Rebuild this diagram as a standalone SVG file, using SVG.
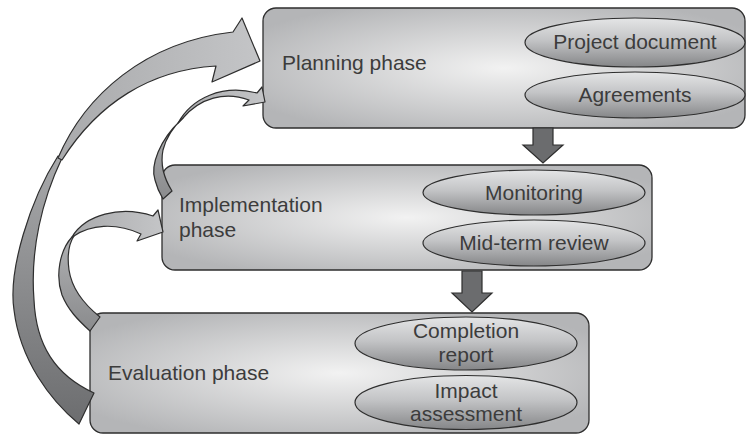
<svg xmlns="http://www.w3.org/2000/svg" width="747" height="435" viewBox="0 0 747 435">
<defs>
<radialGradient id="boxG" cx="0.5" cy="0.5" r="0.6">
<stop offset="0" stop-color="#f2f2f2"/>
<stop offset="1" stop-color="#b4b5b7"/>
</radialGradient>
<linearGradient id="ellG" x1="0" y1="0" x2="0" y2="1">
<stop offset="0" stop-color="#e4e5e6"/>
<stop offset="0.45" stop-color="#c3c4c6"/>
<stop offset="1" stop-color="#858688"/>
</linearGradient>
<linearGradient id="headG" x1="0" y1="0" x2="1" y2="0">
<stop offset="0" stop-color="#a9aaac"/>
<stop offset="1" stop-color="#c4c5c7"/>
</linearGradient>
<linearGradient id="tailG" x1="0" y1="0" x2="0" y2="1">
<stop offset="0" stop-color="#a8a9ab"/>
<stop offset="1" stop-color="#6c6d6f"/>
</linearGradient>
<linearGradient id="tailG2" x1="0" y1="0" x2="0" y2="1">
<stop offset="0" stop-color="#b0b1b3"/>
<stop offset="1" stop-color="#8a8b8d"/>
</linearGradient>
</defs>
<style>
.box{fill:url(#boxG);stroke:#2e2e2e;stroke-width:1.3}
.ell{fill:url(#ellG);stroke:#2e2e2e;stroke-width:1.2}
.t{font-family:"Liberation Sans",Arial,sans-serif;font-size:21px;fill:#3c3c3c}
.c{text-anchor:middle}
.down{fill:#6b6c6e;stroke:#2e2e2e;stroke-width:1.2}
.head{fill:url(#headG);stroke:#2e2e2e;stroke-width:1.2;stroke-linejoin:round}
.tail{fill:url(#tailG);stroke:#2e2e2e;stroke-width:1.2;stroke-linejoin:round}
.tail2{fill:url(#tailG2);stroke:#2e2e2e;stroke-width:1.2;stroke-linejoin:round}
</style>

<g id="planning">
<rect class="box" x="263" y="8" width="482" height="120" rx="13"/>
<text class="t" x="282" y="70">Planning phase</text>
<ellipse class="ell" cx="635" cy="42.5" rx="110" ry="24.5"/>
<text class="t c" x="635" y="49">Project document</text>
<ellipse class="ell" cx="635" cy="95" rx="110" ry="23"/>
<text class="t c" x="635" y="102">Agreements</text>
</g>

<g id="implementation">
<rect class="box" x="162" y="165" width="490" height="105" rx="13"/>
<text class="t" x="179" y="212">Implementation</text>
<text class="t" x="179" y="237">phase</text>
<ellipse class="ell" cx="534" cy="192.5" rx="111" ry="22.5"/>
<text class="t c" x="534" y="200">Monitoring</text>
<ellipse class="ell" cx="534" cy="243" rx="111" ry="23"/>
<text class="t c" x="534" y="250">Mid-term review</text>
</g>

<g id="evaluation">
<rect class="box" x="90" y="313" width="499" height="120" rx="13"/>
<text class="t" x="108" y="380">Evaluation phase</text>
<ellipse class="ell" cx="466" cy="343.5" rx="111" ry="26.5"/>
<text class="t c" x="466" y="338">Completion</text>
<text class="t c" x="466" y="362">report</text>
<ellipse class="ell" cx="466" cy="402.5" rx="111" ry="27"/>
<text class="t c" x="466" y="398">Impact</text>
<text class="t c" x="466" y="421">assessment</text>
</g>

<g id="connectors">
<path class="down" d="M533,128 L553,128 L553,145 L563,145 L543,163 L523,145 L533,145 Z"/>
<path class="down" d="M462,271 L482,271 L482,293 L492,293 L472,312 L452,293 L462,293 Z"/>
<path class="tail" d="M58,156 C30,200 8,270 14,310 C20,360 50,400 79,424 L94,393 C55,375 36,345 34,300 C30,250 42,200 62,158 Z"/>
<path class="head" d="M58,158 C85,95 145,42 233,32 L242,18 L260,61 L212,82 L216,66 C150,70 98,103 62,160 Z"/>
<path class="tail2" d="M180,121 C160,140 150,165 155,180 C157,188 160,194 163,199 L172,191 C165,180 160,165 163,150 C166,138 172,128 183,118 Z"/>
<path class="head" d="M178,123 C192,98 222,84 257,93 L262,87 L265,102 L243,106 L249,100 C225,91 200,98 183,118 Z"/>
<path class="tail2" d="M72,237 C60,250 55,275 62,295 C68,310 78,320 90,331 L100,317 C85,305 72,290 69,270 C67,255 68,245 74,236 Z"/>
<path class="head" d="M72,237 C85,215 120,205 153,216 L158,210 L163,232 L137,241 L141,234 C115,222 90,225 74,236 Z"/>
</g>
</svg>
